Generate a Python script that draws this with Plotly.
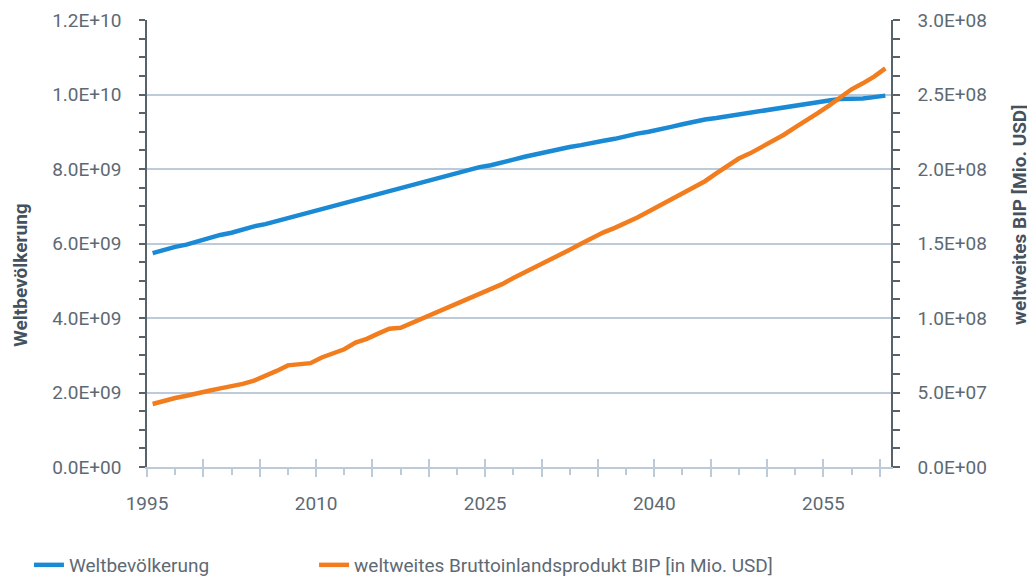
import plotly.graph_objects as go

# ---- data ----
years = list(range(1995, 2061))
population = [  # Weltbevölkerung, in billions (1E9)
    5.74, 5.83, 5.91, 5.97, 6.06, 6.15, 6.23, 6.29, 6.38, 6.46,
    6.52, 6.60, 6.69, 6.78, 6.87, 6.92, 7.00, 7.09, 7.17, 7.26,
    7.32, 7.41, 7.49, 7.57, 7.66, 7.72, 7.81, 7.89, 7.96, 8.05,
    8.10, 8.19, 8.25, 8.33, 8.40, 8.46, 8.52, 8.59, 8.64, 8.71,
    8.76, 8.81, 8.89, 8.95, 9.00, 9.08, 9.13, 9.20, 9.28, 9.33,
    9.37, 9.42, 9.47, 9.52, 9.56, 9.60, 9.65, 9.70, 9.75, 9.80,
    9.84, 9.88, 9.88, 9.89, 9.93, 9.97,
]
gdp = [  # weltweites BIP, in 1E7 Mio. USD
    4.23, 4.45, 4.63, 4.78, 4.92, 5.12, 5.28, 5.40, 5.58, 5.80,
    6.10, 6.45, 6.82, 6.93, 6.97, 7.35, 7.62, 7.90, 8.35, 8.60,
    8.95, 9.28, 9.34, 9.66, 9.96, 10.30, 10.65, 10.97, 11.29, 11.60,
    11.90, 12.27, 12.68, 13.05, 13.40, 13.78, 14.20, 14.58, 14.98, 15.38,
    15.75, 16.05, 16.38, 16.75, 17.15, 17.55, 17.95, 18.35, 18.80, 19.18,
    19.70, 20.20, 20.70, 21.05, 21.45, 21.90, 22.30, 22.80, 23.25, 23.75,
    24.25, 24.80, 25.35, 25.75, 26.20, 26.75,
]
pop_values = [v * 1e9 for v in population]
gdp_values = [v * 1e7 for v in gdp]

x_labels = ["1995", "2010", "2025", "2040", "2055"]
left_ticks = [0, 2e9, 4e9, 6e9, 8e9, 1e10, 1.2e10]
left_text = ["0.0E+00", "2.0E+09", "4.0E+09", "6.0E+09", "8.0E+09", "1.0E+10", "1.2E+10"]
right_ticks = [0, 5e7, 1e8, 1.5e8, 2e8, 2.5e8, 3e8]
right_text = ["0.0E+00", "5.0E+07", "1.0E+08", "1.5E+08", "2.0E+08", "2.5E+08", "3.0E+08"]

name_pop = "Weltbevölkerung"
name_gdp = "weltweites Bruttoinlandsprodukt BIP [in Mio. USD]"
title_left = "Weltbevölkerung"
title_right = "weltweites BIP [Mio. USD]"

# ---- style ----
BLUE = "#1a8ad4"
ORANGE = "#f27d1f"
TICKCOL = "#5d6a74"
AXISDARK = "#56636d"
GRID = "#bccbd7"
TITLECOL = "#44525e"
FONT = "Roboto, 'Open Sans', sans-serif"

# x tick layout: categories are centred on the year, boundaries at year-0.5
major_pos = [years[0] - 0.5 + 5 * k for k in range(14)]
major_txt = [x_labels[k // 3] if k % 3 == 0 else "" for k in range(14)]
minor_pos = [years[0] - 0.5 + 2.5 + 5 * k for k in range(13)]
x_range = [years[0] - 0.5, years[-1] + 0.5]

fig = go.Figure()
fig.add_trace(go.Scatter(
    x=years, y=pop_values, name=name_pop, mode="lines",
    line=dict(color=BLUE, width=4.5), xaxis="x", yaxis="y", legend="legend",
))
fig.add_trace(go.Scatter(
    x=years, y=gdp_values, name=name_gdp, mode="lines",
    line=dict(color=ORANGE, width=4.5), xaxis="x2", yaxis="y2", legend="legend2",
))

legend_common = dict(
    orientation="h", xref="container", yref="container",
    xanchor="left", yanchor="middle", y=0.0262,
    font=dict(family=FONT, size=19, color=TICKCOL), bgcolor="rgba(0,0,0,0)",
)

# the page body adds an 8px offset, so the figure is 8px smaller than the window
fig.update_layout(
    width=1027, height=572,
    margin=dict(l=139, r=144, t=12, b=113, autoexpand=False),
    paper_bgcolor="white", plot_bgcolor="white",
    font=dict(family=FONT, size=19, color=TICKCOL),
    showlegend=True,
    legend=dict(x=0.0204, **legend_common),
    legend2=dict(x=0.298, **legend_common),
    xaxis=dict(
        range=x_range, tickmode="array", tickvals=major_pos, ticktext=major_txt,
        ticks="outside", ticklen=8, tickwidth=1.5, tickcolor=GRID,
        showline=True, linecolor=GRID, linewidth=1.5,
        showgrid=False, zeroline=False, ticklabelstandoff=10,
        minor=dict(tickmode="array", tickvals=minor_pos, ticks="outside",
                   ticklen=6, tickwidth=1.5, tickcolor=GRID, showgrid=False),
        tickfont=dict(size=19, color=TICKCOL),
    ),
    xaxis2=dict(
        range=x_range, overlaying="x", anchor="y2", side="bottom",
        tickmode="array", tickvals=major_pos, ticks="inside", ticklen=8,
        tickwidth=1.5, tickcolor=GRID, showticklabels=False,
        showline=False, showgrid=False, zeroline=False,
    ),
    yaxis=dict(
        range=[0, 1.2e10], tickmode="array", tickvals=left_ticks, ticktext=left_text,
        ticks="outside", ticklen=6, tickwidth=1.5, tickcolor=AXISDARK,
        showline=True, linecolor=AXISDARK, linewidth=1.5,
        showgrid=True, gridcolor=GRID, gridwidth=1.5, zeroline=False,
        ticklabelstandoff=14,
        minor=dict(dtick=5e8, tick0=0, ticks="outside", ticklen=6, tickwidth=1.5,
                   tickcolor=AXISDARK, showgrid=False),
        tickfont=dict(size=19, color=TICKCOL),
    ),
    yaxis2=dict(
        range=[0, 3e8], overlaying="y", side="right", anchor="x2",
        tickmode="array", tickvals=right_ticks, ticktext=right_text,
        ticks="outside", ticklen=7, tickwidth=1.5, tickcolor=AXISDARK,
        showline=True, linecolor=AXISDARK, linewidth=1.5,
        showgrid=False, zeroline=False, ticklabelstandoff=14,
        minor=dict(dtick=1.25e7, tick0=0, ticks="outside", ticklen=7, tickwidth=1.5,
                   tickcolor=AXISDARK, showgrid=False),
        tickfont=dict(size=19, color=TICKCOL),
    ),
    annotations=[
        dict(text=f"<b>{title_left}</b>", xref="paper", yref="paper",
             x=-0.171, y=0.4295, textangle=-90, showarrow=False,
             font=dict(family=FONT, size=19, color=TITLECOL),
             xanchor="center", yanchor="middle"),
        dict(text=f"<b>{title_right}</b>", xref="paper", yref="paper",
             x=1.1734, y=0.5638, textangle=-90, showarrow=False,
             font=dict(family=FONT, size=19, color=TITLECOL),
             xanchor="center", yanchor="middle"),
    ],
)

fig.write_html("out.html")
